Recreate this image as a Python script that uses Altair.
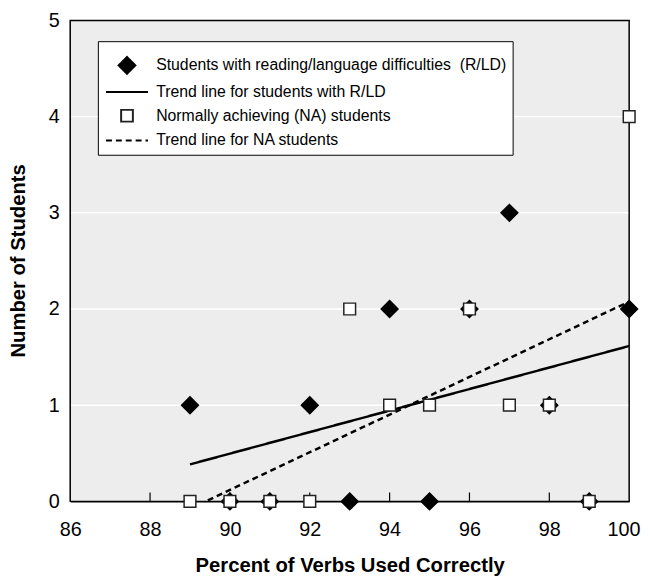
import altair as alt
import pandas as pd

# ---- data ----
pct = [89, 90, 91, 92, 93, 94, 95, 96, 97, 98, 99, 100]
rld_counts = [1, 0, 0, 1, 0, 2, 0, 2, 3, 1, 0, 2]
na_counts = [0, 0, 0, 0, 2, 1, 1, 2, 1, 1, 0, 4]
x_tick_labels = [86, 88, 90, 92, 94, 96, 98, 100]
inner_ticks = [88, 90, 92, 94, 96, 98]
y_tick_labels = [0, 1, 2, 3, 4, 5]
y_grid = [1, 2, 3, 4]

rld_name = "Students with reading/language difficulties\u00a0 (R/LD)"
rld_trend = "Trend line for students with R/LD"
na_name = "Normally achieving (NA) students"
na_trend = "Trend line for NA students"
series_names = [rld_name, rld_trend, na_name, na_trend]

rows = []
for p, c in zip(pct, rld_counts):
    rows.append({"pct": p, "count": c, "group": "RLD", "series": rld_name})
for p, c in zip(pct, na_counts):
    rows.append({"pct": p, "count": c, "group": "NA", "series": na_name})
df = pd.DataFrame(rows)
ticks_df = pd.DataFrame({"pct": inner_ticks})
grid_df = pd.DataFrame({"count": y_grid})
frame_df = pd.DataFrame({"k": [0]})

W, H = 566, 487
FONT = "Liberation Sans"
PLOT_BG = "rgb(237,237,237)"

diamond = "M0,-1L1,0L0,1L-1,0Z"
square = "M-0.7,-0.7L0.7,-0.7L0.7,0.7L-0.7,0.7Z"
hline = "M-2.5,0L2.5,0"

legend = alt.Legend(
    title="\u00a0", titleFontSize=4, titlePadding=5,
    orient="none", legendX=28, legendY=21, direction="vertical",
    fillColor="white", strokeColor="black", padding=6, symbolOffset=14,
    labelFontSize=16, labelFont=FONT, labelColor="black", labelOffset=20,
    symbolSize=289, symbolStrokeWidth=2, rowPadding=5, labelLimit=600,
)

shape_scale = alt.Scale(domain=series_names, range=[diamond, hline, square, hline])
fill_scale = alt.Scale(domain=series_names, range=["black", "transparent", "white", "transparent"])
stroke_scale = alt.Scale(domain=series_names, range=["black", "black", "#222222", "black"])
dash_scale = alt.Scale(domain=series_names, range=[[1, 0], [1, 0], [1, 0], [6, 4]])

x_scale = alt.Scale(domain=[86, 100], nice=False, zero=False)
y_scale = alt.Scale(domain=[0, 5], nice=False)

x_axis = alt.Axis(
    values=x_tick_labels, title="Percent of Verbs Used Correctly", grid=False,
    ticks=False, labelPadding=19, labelFontSize=20, labelFont=FONT, format="d",
    labelColor="black", domainColor="black", domainWidth=1.5,
    labelFlush=True, labelFlushOffset=11,
    titleFont=FONT, titleFontSize=20.5, titleFontWeight="bold", titleColor="black",
    titleY=71, titleBaseline="alphabetic",
)
y_axis = alt.Axis(
    values=y_tick_labels, title="Number of Students", grid=False,
    ticks=False, labelPadding=11, format="d",
    labelFontSize=20, labelFont=FONT, labelColor="black", labelFlush=False,
    domainColor="black", domainWidth=1.5,
    titleFont=FONT, titleFontSize=20.5, titleFontWeight="bold", titleColor="black",
    titleX=-52, titleY=243, titleAngle=-90, titleAlign="center", titleBaseline="middle",
)

x_enc = alt.X("pct:Q", scale=x_scale, axis=x_axis)
y_enc = alt.Y("count:Q", scale=y_scale, axis=y_axis)

frame = alt.Chart(frame_df).mark_rect(
    color=PLOT_BG, fill=PLOT_BG, filled=True, opacity=1, fillOpacity=1,
    stroke="black", strokeWidth=1.5,
).encode(
    x=alt.value(0), x2=alt.value(W), y=alt.value(0), y2=alt.value(H),
)

grid = alt.Chart(grid_df).mark_rule(color="white", strokeWidth=1.5).encode(
    y=y_enc,
    x=alt.value(1), x2=alt.value(W - 1),
)

ticks = alt.Chart(ticks_df).mark_rule(color="black", strokeWidth=1.2).encode(
    x=x_enc,
    y=alt.value(H), y2=alt.value(H - 9),
)

base = alt.Chart(df)

trend = base.transform_regression(
    "pct", "count", groupby=["group"]
).transform_calculate(
    series=f"datum.group == 'RLD' ? '{rld_trend}' : '{na_trend}'"
).mark_line(strokeWidth=2.5, clip=True).encode(
    x=x_enc, y=y_enc,
    stroke=alt.Stroke("series:N", scale=stroke_scale, legend=legend),
    strokeDash=alt.StrokeDash("series:N", scale=dash_scale, legend=legend),
    detail="series:N",
)

def pts(name, sw):
    return base.transform_filter(
        alt.datum.series == name
    ).mark_point(size=289, filled=False, opacity=1, strokeWidth=sw).encode(
        x=x_enc, y=y_enc,
        shape=alt.Shape("series:N", scale=shape_scale, legend=legend),
        fill=alt.Fill("series:N", scale=fill_scale, legend=legend),
        stroke=alt.Stroke("series:N", scale=stroke_scale, legend=legend),
    )

chart = alt.layer(
    frame, grid, ticks, trend, pts(rld_name, 1.5), pts(na_name, 1.5)
).properties(
    width=W, height=H,
    autosize=alt.AutoSizeParams(type="none"),
    padding={"left": 63, "top": 9, "right": 13, "bottom": 75},
).configure(
    font=FONT,
).configure_view(
    stroke=None,
)

chart.save("out.html", embed_options={"renderer": "svg", "actions": False})
